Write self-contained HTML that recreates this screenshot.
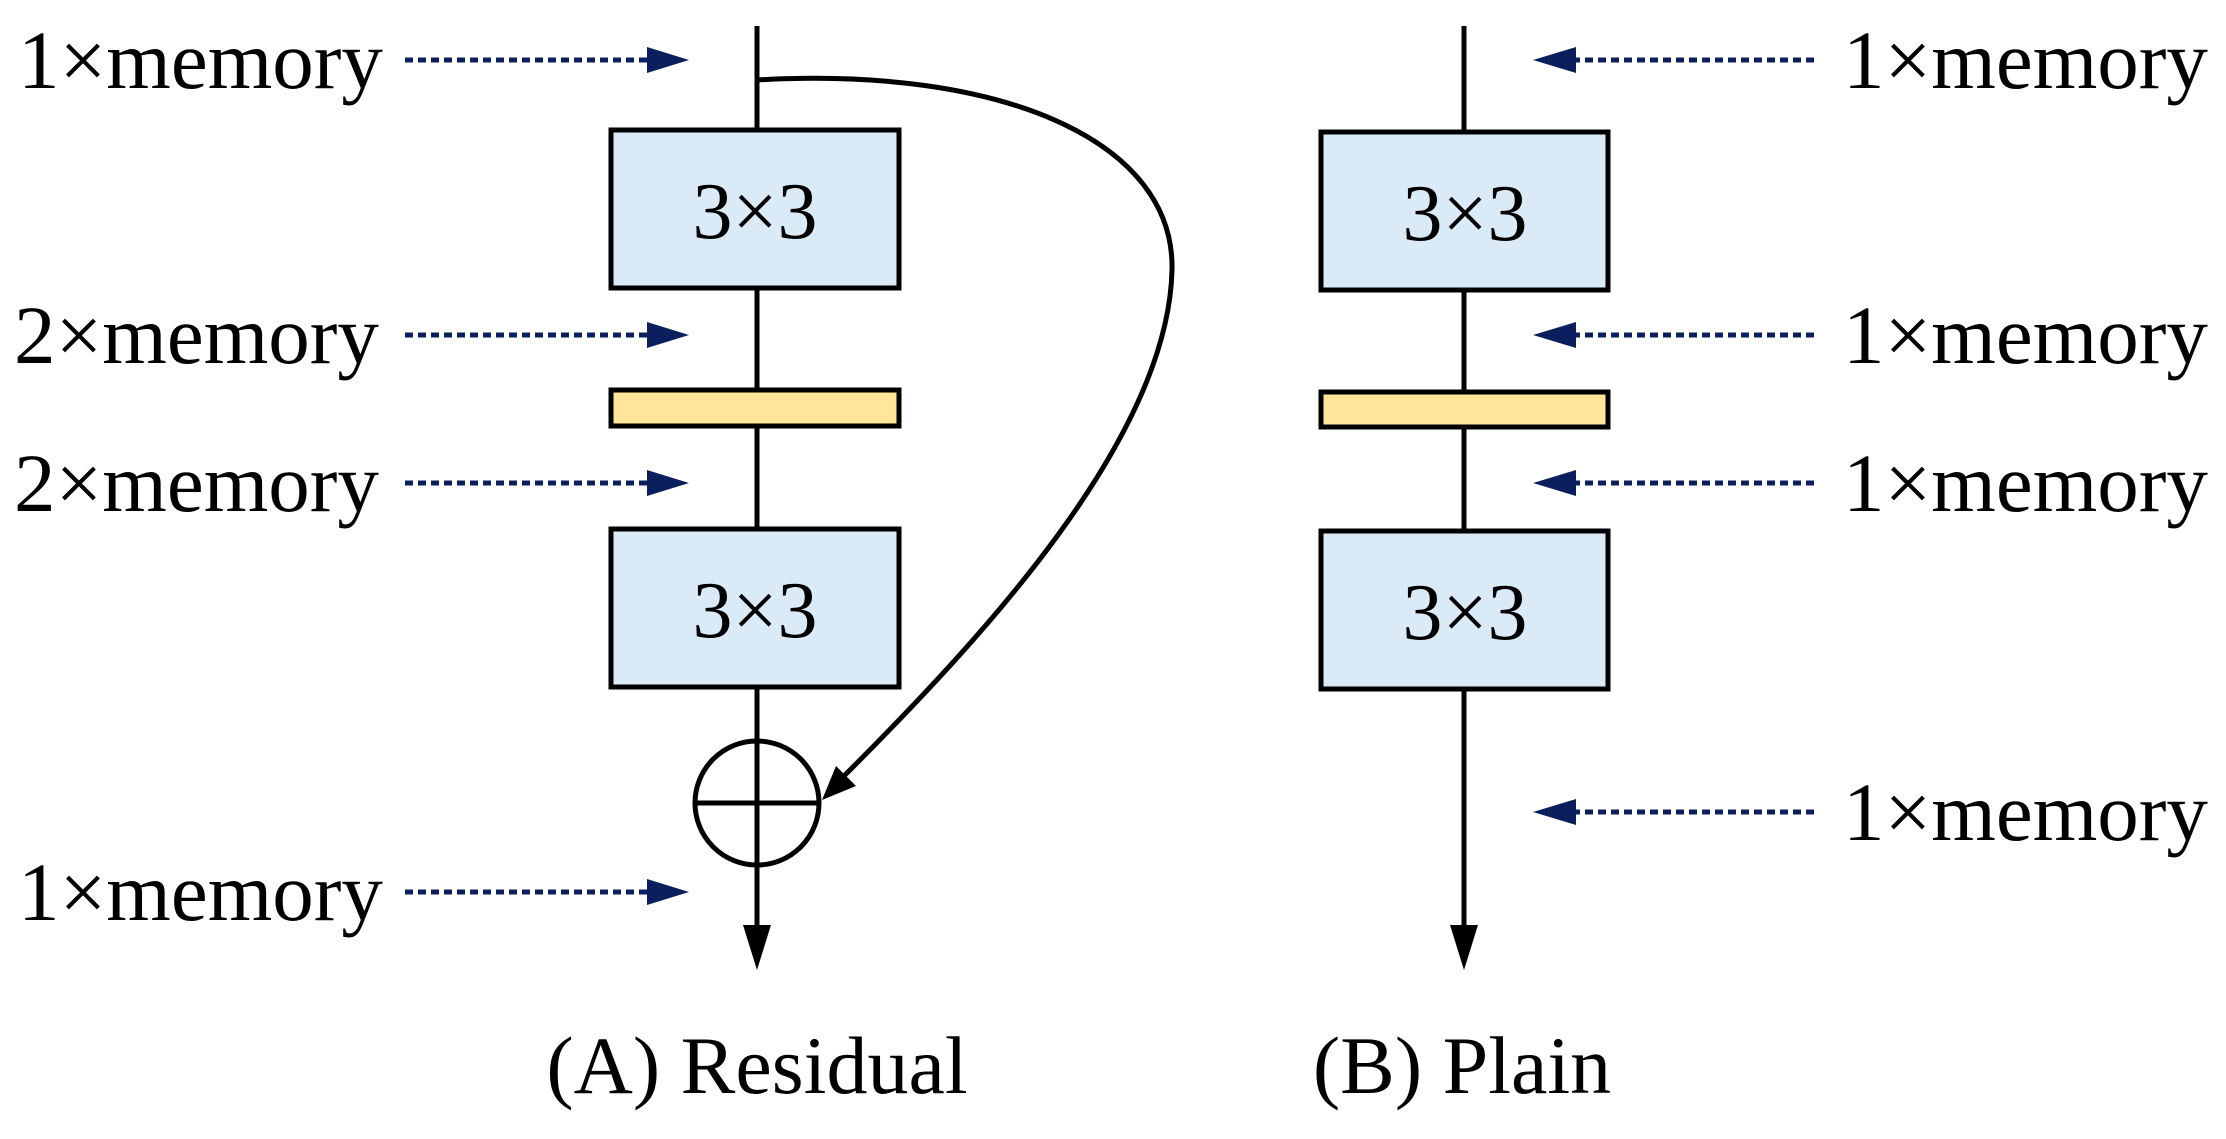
<!DOCTYPE html>
<html><head><style>html,body{margin:0;padding:0;background:#fff}</style></head>
<body>
<svg width="2226" height="1134" viewBox="0 0 2226 1134" xmlns="http://www.w3.org/2000/svg" font-family="Liberation Serif, serif">
<!-- Left column -->
<line x1="757" y1="26" x2="757" y2="930" stroke="#000" stroke-width="5"/>
<polygon points="743,925 771,925 757,970" fill="#000"/>
<rect x="611" y="130" width="288" height="158" fill="#dbeaf7" stroke="#000" stroke-width="5"/>
<rect x="611" y="390" width="288" height="36" fill="#ffe699" stroke="#000" stroke-width="5"/>
<rect x="611" y="529" width="288" height="158" fill="#dbeaf7" stroke="#000" stroke-width="5"/>
<text x="755" y="238" font-size="80" text-anchor="middle">3×3</text>
<text x="755" y="637" font-size="80" text-anchor="middle">3×3</text>
<circle cx="757" cy="803" r="62" fill="none" stroke="#000" stroke-width="5"/>
<line x1="695" y1="803" x2="819" y2="803" stroke="#000" stroke-width="5"/>
<path d="M757,80 C1000,66 1175,140 1172,270 C1168,440 980,640 842,778" fill="none" stroke="#000" stroke-width="5"/>
<polygon points="822,800 836,766 856,786" fill="#000"/>
<g fill="#0b1f5e" stroke="#0b1f5e">
<line x1="405" y1="60" x2="650" y2="60" stroke-width="5" stroke-dasharray="8,5"/><polygon points="647,47 689,60 647,73" stroke="none"/>
<line x1="405" y1="335" x2="650" y2="335" stroke-width="5" stroke-dasharray="8,5"/><polygon points="647,322 689,335 647,348" stroke="none"/>
<line x1="405" y1="483" x2="650" y2="483" stroke-width="5" stroke-dasharray="8,5"/><polygon points="647,470 689,483 647,496" stroke="none"/>
<line x1="405" y1="892" x2="650" y2="892" stroke-width="5" stroke-dasharray="8,5"/><polygon points="647,879 689,892 647,905" stroke="none"/>
</g>
<g font-size="83" fill="#000">
<text x="18" y="88">1×memory</text>
<text x="14" y="363">2×memory</text>
<text x="14" y="511">2×memory</text>
<text x="18" y="920">1×memory</text>
</g>
<!-- Right column -->
<line x1="1464" y1="26" x2="1464" y2="930" stroke="#000" stroke-width="5"/>
<polygon points="1450,925 1478,925 1464,970" fill="#000"/>
<rect x="1321" y="132" width="287" height="158" fill="#dbeaf7" stroke="#000" stroke-width="5"/>
<rect x="1321" y="392" width="287" height="35" fill="#ffe699" stroke="#000" stroke-width="5"/>
<rect x="1321" y="531" width="287" height="158" fill="#dbeaf7" stroke="#000" stroke-width="5"/>
<text x="1465" y="240" font-size="80" text-anchor="middle">3×3</text>
<text x="1465" y="639" font-size="80" text-anchor="middle">3×3</text>
<g fill="#0b1f5e" stroke="#0b1f5e">
<line x1="1572" y1="60" x2="1814" y2="60" stroke-width="5" stroke-dasharray="8,5"/><polygon points="1576,47 1533,60 1576,73" stroke="none"/>
<line x1="1572" y1="335" x2="1814" y2="335" stroke-width="5" stroke-dasharray="8,5"/><polygon points="1576,322 1533,335 1576,348" stroke="none"/>
<line x1="1572" y1="483" x2="1814" y2="483" stroke-width="5" stroke-dasharray="8,5"/><polygon points="1576,470 1533,483 1576,496" stroke="none"/>
<line x1="1572" y1="812" x2="1814" y2="812" stroke-width="5" stroke-dasharray="8,5"/><polygon points="1576,799 1533,812 1576,825" stroke="none"/>
</g>
<g font-size="83" fill="#000">
<text x="1843" y="88">1×memory</text>
<text x="1843" y="363">1×memory</text>
<text x="1843" y="511">1×memory</text>
<text x="1843" y="840">1×memory</text>
</g>
<text x="757" y="1093" font-size="82" text-anchor="middle">(A) Residual</text>
<text x="1462" y="1093" font-size="82" text-anchor="middle">(B) Plain</text>
</svg>
</body></html>
